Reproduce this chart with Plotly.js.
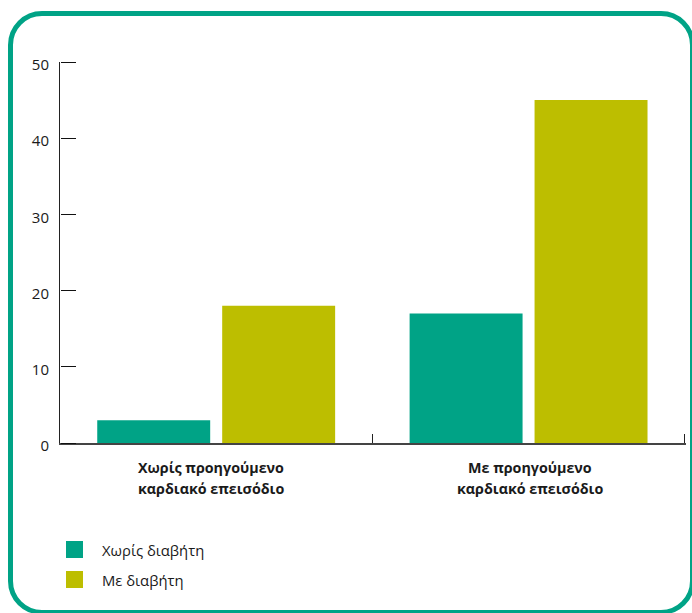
<!DOCTYPE html>
<html>
<head>
<meta charset="utf-8">
<script src="https://cdn.plot.ly/plotly-3.0.1.min.js"></script>
<style>
  html, body { margin: 0; padding: 0; width: 692px; height: 613px; overflow: hidden; background: #fff; }
  #frame {
    position: absolute; left: 8px; top: 11px; width: 687px; height: 604px;
    box-sizing: border-box; border: 5.5px solid #00A386; border-radius: 34px;
  }
  #chart { position: absolute; left: 0; top: 0; width: 692px; height: 613px; }
</style>
</head>
<body>
<div id="frame"></div>
<div id="chart"></div>
<script>
// Category labels, two lines each
const catLines = [
  ['Χωρίς προηγούμενο', 'καρδιακό επεισόδιο'],
  ['Με προηγούμενο', 'καρδιακό επεισόδιο']
];
const categories = catLines.map(l => l.join(' '));
// small horizontal nudge of each category label block (px)
const catLabelShift = [-5, 1];

// Series
const seriesNames = ['Χωρίς διαβήτη', 'Με διαβήτη'];
const seriesColors = ['#00A386', '#BDBE00'];
const noDiabetes = [3, 17];
const withDiabetes = [18, 45];

// Y axis ticks
const yTicks = [0, 10, 20, 30, 40, 50];

const FONT = 'Open Sans, Noto Sans, sans-serif';
const TXT = '#1a1a1a';

const traces = [noDiabetes, withDiabetes].map((vals, i) => ({
  type: 'bar',
  x: categories,
  y: vals,
  name: seriesNames[i],
  marker: { color: seriesColors[i] },
  showlegend: false,
  hoverinfo: 'skip'
}));

// empty trace that carries the right-pointing tick marks of the value axis
traces.push({
  type: 'scatter', x: [], y: [], xaxis: 'x', yaxis: 'y2',
  showlegend: false, hoverinfo: 'skip'
});

// Category labels under the axis
const annotations = [];
catLines.forEach((lines, ci) => {
  lines.forEach((t, li) => {
    annotations.push({
      xref: 'x', yref: 'paper', x: categories[ci], y: 0,
      yanchor: 'middle', xanchor: 'center',
      xshift: catLabelShift[ci], yshift: -24 - li * 21,
      text: '<b>' + t + '</b>', showarrow: false,
      font: { family: FONT, size: 14.3, color: TXT }
    });
  });
});

// Legend: coloured squares with series names
const shapes = [];
seriesNames.forEach((n, i) => {
  const top = 98 + i * 30;
  shapes.push({
    type: 'rect', xref: 'paper', yref: 'paper',
    xsizemode: 'pixel', ysizemode: 'pixel', xanchor: 0, yanchor: 0,
    x0: 6, x1: 23, y0: -(top + 17), y1: -top,
    fillcolor: seriesColors[i], line: { width: 0 }
  });
  annotations.push({
    xref: 'paper', yref: 'paper', x: 0, y: 0,
    xanchor: 'left', yanchor: 'middle', xshift: 40, yshift: -(top + 8.5),
    text: n, showarrow: false,
    font: { family: FONT, size: 14.8, color: TXT }
  });
});

const layout = {
  width: 692, height: 613,
  margin: { l: 60, r: 6, t: 62, b: 170 },
  paper_bgcolor: 'rgba(0,0,0,0)',
  plot_bgcolor: 'rgba(0,0,0,0)',
  barmode: 'group',
  bargap: 0.2,
  bargroupgap: 0.096,
  font: { family: FONT, color: TXT },
  xaxis: {
    type: 'category',
    range: [-0.5, 1.504],
    tickson: 'boundaries',
    ticks: 'inside', ticklen: 9, tickcolor: '#222', tickwidth: 1,
    showticklabels: false,
    showline: true, linecolor: '#444', linewidth: 2,
    showgrid: false, zeroline: false
  },
  yaxis: {
    range: [0, 50],
    tickmode: 'array', tickvals: yTicks,
    ticks: '',
    showline: true, linecolor: '#222', linewidth: 1,
    showgrid: false, zeroline: false,
    tickfont: { family: FONT, size: 15, color: TXT },
    ticklabelstandoff: 7,
    ticklabelshift: 3
  },
  yaxis2: {
    overlaying: 'y', matches: 'y', side: 'right',
    anchor: 'free', position: 0,
    range: [0, 50],
    tickmode: 'array', tickvals: yTicks,
    ticks: 'outside', ticklen: 15, tickcolor: '#111', tickwidth: 1,
    showticklabels: false, showline: false, showgrid: false, zeroline: false
  },
  shapes: shapes,
  annotations: annotations
};

Plotly.newPlot('chart', traces, layout, { displayModeBar: false, staticPlot: true });
</script>
</body>
</html>
